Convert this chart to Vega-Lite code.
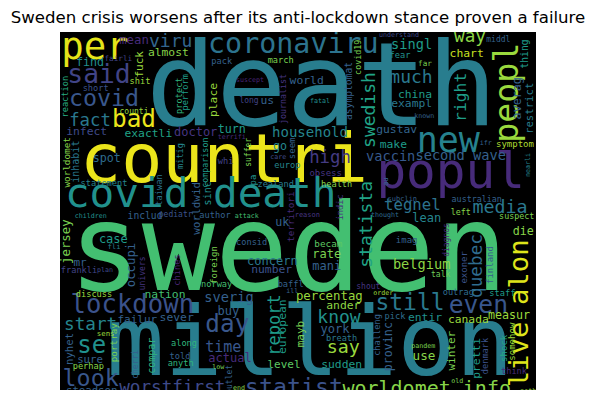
{
  "$schema": "https://vega.github.io/schema/vega-lite/v6.json",
  "width": 476,
  "height": 358,
  "autosize": {"type": "none"},
  "padding": {"left": 60, "top": 32, "right": 59, "bottom": 21},
  "background": "white",
  "title": {"text": "Sweden crisis worsens after its anti-lockdown stance proven a failure", "font": "DejaVu Sans", "fontSize": 16.6, "fontWeight": "normal", "color": "black", "anchor": "middle", "frame": "group", "offset": 7, "dy": 15, "baseline": "alphabetic"},
  "config": {"view": {"fill": "black", "stroke": null}},
  "data": {"values": [
    {"w":"death","x":785,"y":285,"s":350,"c":0.42,"r":0},
    {"w":"sweden","x":685,"y":780,"s":365,"c":0.7,"r":0},
    {"w":"million","x":750,"y":1035,"s":290,"c":0.42,"r":0},
    {"w":"countri","x":492,"y":455,"s":205,"c":0.97,"r":0},
    {"w":"popul","x":1172,"y":475,"s":148,"c":0.12,"r":0},
    {"w":"covid death","x":422,"y":530,"s":123,"c":0.5,"r":0},
    {"w":"per","x":105,"y":88,"s":112,"c":0.96,"r":0},
    {"w":"new","x":1165,"y":365,"s":105,"c":0.44,"r":0},
    {"w":"peopl","x":1374,"y":188,"s":100,"c":0.85,"r":1},
    {"w":"coronaviru","x":700,"y":70,"s":85,"c":0.38,"r":0},
    {"w":"live alon","x":1405,"y":850,"s":82,"c":0.95,"r":1},
    {"w":"said","x":117,"y":160,"s":79,"c":0.2,"r":0},
    {"w":"lockdown","x":217,"y":850,"s":77,"c":0.25,"r":0},
    {"w":"even","x":1255,"y":850,"s":74,"c":0.27,"r":0},
    {"w":"bad","x":222,"y":292,"s":73,"c":0.97,"r":0},
    {"w":"day","x":502,"y":905,"s":73,"c":0.27,"r":0},
    {"w":"se","x":95,"y":970,"s":72,"c":0.5,"r":0},
    {"w":"covid","x":132,"y":228,"s":70,"c":0.27,"r":0},
    {"w":"look","x":92,"y":1068,"s":70,"c":0.27,"r":0},
    {"w":"statist","x":702,"y":1095,"s":70,"c":0.25,"r":0},
    {"w":"still","x":1050,"y":840,"s":69,"c":0.4,"r":0},
    {"w":"worldomet info","x":1100,"y":1095,"s":60,"c":0.82,"r":0},
    {"w":"media","x":1320,"y":550,"s":55,"c":0.4,"r":0},
    {"w":"say","x":850,"y":970,"s":55,"c":0.85,"r":0},
    {"w":"swedish","x":946,"y":240,"s":54,"c":0.58,"r":1},
    {"w":"statista","x":936,"y":583,"s":54,"c":0.58,"r":1},
    {"w":"much","x":1053,"y":160,"s":54,"c":0.4,"r":0},
    {"w":"know","x":837,"y":880,"s":54,"c":0.5,"r":0},
    {"w":"viru","x":332,"y":52,"s":54,"c":0.32,"r":0},
    {"w":"start","x":92,"y":900,"s":53,"c":0.45,"r":0},
    {"w":"way","x":1230,"y":37,"s":53,"c":0.83,"r":0},
    {"w":"quebec","x":1265,"y":708,"s":53,"c":0.35,"r":1},
    {"w":"worstfirst","x":337,"y":1090,"s":53,"c":0.22,"r":0},
    {"w":"fact","x":90,"y":287,"s":52,"c":0.4,"r":0},
    {"w":"high","x":810,"y":400,"s":52,"c":0.17,"r":0},
    {"w":"report","x":659,"y":885,"s":51,"c":0.55,"r":1},
    {"w":"right","x":1217,"y":202,"s":49,"c":0.56,"r":1},
    {"w":"tegnel","x":1057,"y":540,"s":47,"c":0.38,"r":0},
    {"w":"time","x":490,"y":965,"s":45,"c":0.27,"r":0},
    {"w":"household","x":750,"y":320,"s":42,"c":0.45,"r":0},
    {"w":"singl","x":1055,"y":57,"s":41,"c":0.55,"r":0},
    {"w":"second wave","x":1202,"y":390,"s":41,"c":0.3,"r":0},
    {"w":"vaccin","x":992,"y":392,"s":41,"c":0.28,"r":0},
    {"w":"sverig","x":507,"y":815,"s":41,"c":0.3,"r":0},
    {"w":"belgium","x":1085,"y":718,"s":41,"c":0.83,"r":0},
    {"w":"use","x":1092,"y":990,"s":38,"c":0.82,"r":0},
    {"w":"averag","x":1384,"y":205,"s":35,"c":0.3,"r":1},
    {"w":"occupi","x":225,"y":705,"s":37,"c":0.3,"r":1},
    {"w":"percentag","x":808,"y":810,"s":37,"c":0.85,"r":0},
    {"w":"jersey","x":30,"y":635,"s":37,"c":0.8,"r":1},
    {"w":"case","x":160,"y":640,"s":36,"c":0.55,"r":0},
    {"w":"doctor","x":407,"y":318,"s":36,"c":0.15,"r":0},
    {"w":"concern","x":637,"y":705,"s":36,"c":0.4,"r":0},
    {"w":"rate","x":800,"y":685,"s":36,"c":0.8,"r":0},
    {"w":"mani","x":800,"y":720,"s":36,"c":0.3,"r":0},
    {"w":"lean","x":1100,"y":575,"s":36,"c":0.45,"r":0},
    {"w":"buy","x":505,"y":855,"s":36,"c":0.3,"r":0},
    {"w":"york","x":825,"y":910,"s":36,"c":0.3,"r":0},
    {"w":"actual","x":510,"y":995,"s":36,"c":0.12,"r":0},
    {"w":"die","x":1390,"y":615,"s":35,"c":0.82,"r":0},
    {"w":"turn","x":515,"y":308,"s":35,"c":0.55,"r":0},
    {"w":"find","x":90,"y":107,"s":35,"c":0.5,"r":0},
    {"w":"uk","x":667,"y":587,"s":35,"c":0.3,"r":0},
    {"w":"go","x":660,"y":360,"s":35,"c":0.45,"r":0},
    {"w":"spot","x":140,"y":395,"s":35,"c":0.35,"r":0},
    {"w":"measur","x":1347,"y":867,"s":35,"c":0.85,"r":0},
    {"w":"provinc","x":997,"y":950,"s":35,"c":0.3,"r":1},
    {"w":"place","x":470,"y":210,"s":34,"c":0.85,"r":1},
    {"w":"chart","x":1220,"y":80,"s":34,"c":0.92,"r":0},
    {"w":"china","x":1065,"y":205,"s":34,"c":0.55,"r":0},
    {"w":"exampl","x":1055,"y":230,"s":34,"c":0.4,"r":0},
    {"w":"gustav","x":1010,"y":310,"s":34,"c":0.32,"r":0},
    {"w":"make","x":1000,"y":355,"s":34,"c":0.55,"r":0},
    {"w":"almost","x":325,"y":78,"s":34,"c":0.82,"r":0},
    {"w":"infect","x":80,"y":315,"s":34,"c":0.22,"r":0},
    {"w":"exactli","x":265,"y":322,"s":34,"c":0.58,"r":0},
    {"w":"world","x":740,"y":162,"s":34,"c":0.3,"r":0},
    {"w":"us","x":622,"y":222,"s":34,"c":0.3,"r":0},
    {"w":"number","x":635,"y":730,"s":34,"c":0.25,"r":0},
    {"w":"nation","x":315,"y":803,"s":34,"c":0.7,"r":0},
    {"w":"ander","x":850,"y":838,"s":34,"c":0.83,"r":0},
    {"w":"sever","x":350,"y":873,"s":34,"c":0.3,"r":0},
    {"w":"entir","x":1095,"y":873,"s":34,"c":0.5,"r":0},
    {"w":"canada","x":1225,"y":878,"s":34,"c":0.85,"r":0},
    {"w":"sudden","x":845,"y":1015,"s":34,"c":0.55,"r":0},
    {"w":"pretti","x":1261,"y":985,"s":34,"c":0.55,"r":1},
    {"w":"european","x":678,"y":890,"s":34,"c":0.55,"r":1},
    {"w":"failur","x":232,"y":878,"s":33,"c":0.3,"r":0},
    {"w":"mr","x":60,"y":708,"s":33,"c":0.3,"r":0},
    {"w":"mayb","x":733,"y":912,"s":33,"c":0.8,"r":1},
    {"w":"winter","x":1185,"y":962,"s":33,"c":0.8,"r":1},
    {"w":"level","x":672,"y":1015,"s":33,"c":0.75,"r":0},
    {"w":"fuck","x":250,"y":103,"s":33,"c":0.85,"r":1},
    {"w":"worldwid","x":420,"y":535,"s":33,"c":0.3,"r":1},
    {"w":"nyhet","x":39,"y":957,"s":32,"c":0.3,"r":1},
    {"w":"steadson","x":95,"y":1093,"s":32,"c":0.3,"r":0},
    {"w":"restrict","x":1419,"y":235,"s":32,"c":0.42,"r":1},
    {"w":"sure","x":90,"y":998,"s":32,"c":0.3,"r":0},
    {"w":"sinc","x":452,"y":490,"s":30,"c":0.5,"r":1},
    {"w":"inhabit","x":58,"y":395,"s":30,"c":0.4,"r":1},
    {"w":"includ","x":255,"y":567,"s":29,"c":0.3,"r":0},
    {"w":"compar","x":286,"y":977,"s":30,"c":0.65,"r":1},
    {"w":"asymptomat","x":877,"y":183,"s":29,"c":0.3,"r":1},
    {"w":"thing","x":1405,"y":72,"s":29,"c":0.55,"r":1},
    {"w":"territori","x":701,"y":560,"s":28,"c":0.12,"r":1},
    {"w":"worldomet","x":31,"y":397,"s":28,"c":0.82,"r":1},
    {"w":"portray","x":171,"y":938,"s":28,"c":0.8,"r":1},
    {"w":"becam","x":805,"y":652,"s":28,"c":0.75,"r":0},
    {"w":"symptom","x":1365,"y":350,"s":27,"c":0.88,"r":0},
    {"w":"obsess","x":797,"y":437,"s":27,"c":0.15,"r":0},
    {"w":"imag","x":1040,"y":640,"s":27,"c":0.3,"r":0},
    {"w":"finland","x":1300,"y":705,"s":27,"c":0.3,"r":1},
    {"w":"exoner","x":1220,"y":712,"s":27,"c":0.25,"r":1},
    {"w":"foreign","x":471,"y":705,"s":27,"c":0.8,"r":1},
    {"w":"shock","x":1341,"y":955,"s":27,"c":0.6,"r":1},
    {"w":"somehow","x":1365,"y":935,"s":27,"c":0.85,"r":1},
    {"w":"seem","x":705,"y":355,"s":27,"c":0.3,"r":1},
    {"w":"pa","x":588,"y":450,"s":27,"c":0.5,"r":1},
    {"w":"health","x":830,"y":472,"s":26,"c":0.82,"r":0},
    {"w":"fear","x":1020,"y":85,"s":26,"c":0.5,"r":0},
    {"w":"covid19","x":903,"y":82,"s":25,"c":0.8,"r":1},
    {"w":"denmark","x":1285,"y":978,"s":26,"c":0.25,"r":1},
    {"w":"chines","x":360,"y":720,"s":26,"c":0.1,"r":1},
    {"w":"indic","x":850,"y":532,"s":26,"c":0.15,"r":1},
    {"w":"mitig","x":370,"y":378,"s":26,"c":0.45,"r":1},
    {"w":"protect","x":365,"y":197,"s":26,"c":0.65,"r":1},
    {"w":"perform","x":385,"y":187,"s":26,"c":0.55,"r":1},
    {"w":"reaction","x":24,"y":200,"s":26,"c":0.62,"r":1},
    {"w":"taiwan","x":305,"y":480,"s":26,"c":0.38,"r":1},
    {"w":"challeng","x":960,"y":915,"s":26,"c":0.3,"r":1},
    {"w":"consid","x":575,"y":645,"s":26,"c":0.3,"r":0},
    {"w":"zealand","x":647,"y":472,"s":26,"c":0.42,"r":0},
    {"w":"statement","x":132,"y":468,"s":26,"c":0.45,"r":0},
    {"w":"author","x":465,"y":565,"s":26,"c":0.3,"r":0},
    {"w":"frankli","x":57,"y":730,"s":26,"c":0.2,"r":0},
    {"w":"norway","x":470,"y":770,"s":26,"c":0.7,"r":0},
    {"w":"discuss","x":102,"y":802,"s":26,"c":0.85,"r":0},
    {"w":"baffl","x":692,"y":770,"s":26,"c":0.3,"r":0},
    {"w":"outrag","x":1195,"y":795,"s":26,"c":0.35,"r":0},
    {"w":"staff","x":1327,"y":798,"s":26,"c":0.55,"r":0},
    {"w":"pick","x":1005,"y":866,"s":26,"c":0.35,"r":0},
    {"w":"breath","x":845,"y":932,"s":26,"c":0.4,"r":0},
    {"w":"think","x":1362,"y":1033,"s":26,"c":0.12,"r":0},
    {"w":"perhap","x":85,"y":1018,"s":26,"c":0.82,"r":0},
    {"w":"along","x":372,"y":947,"s":26,"c":0.65,"r":0},
    {"w":"told","x":360,"y":988,"s":26,"c":0.3,"r":0},
    {"w":"anyth","x":362,"y":1008,"s":26,"c":0.65,"r":0},
    {"w":"shit","x":240,"y":162,"s":26,"c":0.85,"r":0},
    {"w":"short","x":107,"y":182,"s":26,"c":0.25,"r":0},
    {"w":"pack","x":485,"y":102,"s":26,"c":0.3,"r":0},
    {"w":"march","x":662,"y":98,"s":26,"c":0.8,"r":0},
    {"w":"whi","x":497,"y":403,"s":26,"c":0.2,"r":0},
    {"w":"europ","x":682,"y":415,"s":26,"c":0.45,"r":0},
    {"w":"australian","x":1250,"y":515,"s":25,"c":0.3,"r":0},
    {"w":"left","x":1202,"y":556,"s":25,"c":0.82,"r":0},
    {"w":"suspect","x":1370,"y":568,"s":25,"c":0.8,"r":0},
    {"w":"journalist","x":679,"y":207,"s":25,"c":0.15,"r":1},
    {"w":"comparison","x":443,"y":398,"s":25,"c":0.55,"r":1},
    {"w":"diagnos","x":1168,"y":630,"s":24,"c":0.12,"r":1},
    {"w":"univers","x":255,"y":730,"s":24,"c":0.15,"r":1},
    {"w":"cherri","x":235,"y":1003,"s":24,"c":0.3,"r":1},
    {"w":"outlet","x":515,"y":1048,"s":24,"c":0.3,"r":1},
    {"w":"suffer","x":573,"y":367,"s":24,"c":0.8,"r":1},
    {"w":"mean","x":222,"y":42,"s":37,"c":0.12,"r":0},
    {"w":"middl","x":1315,"y":35,"s":24,"c":0.3,"r":0},
    {"w":"long","x":567,"y":218,"s":24,"c":0.2,"r":0},
    {"w":"shout","x":925,"y":778,"s":24,"c":0.15,"r":0},
    {"w":"talk","x":1142,"y":740,"s":24,"c":0.78,"r":0},
    {"w":"pediatr","x":347,"y":562,"s":24,"c":0.25,"r":0},
    {"w":"fairli","x":175,"y":92,"s":23,"c":0.2,"r":0},
    {"w":"counti","x":222,"y":252,"s":24,"c":0.85,"r":0},
    {"w":"far","x":1095,"y":108,"s":23,"c":0.8,"r":0},
    {"w":"au","x":985,"y":455,"s":22,"c":0.3,"r":1},
    {"w":"fli","x":162,"y":658,"s":22,"c":0.42,"r":0},
    {"w":"sens","x":137,"y":917,"s":22,"c":0.85,"r":0},
    {"w":"subclin","x":1027,"y":512,"s":21,"c":0.3,"r":0},
    {"w":"reason","x":742,"y":560,"s":21,"c":0.15,"r":0},
    {"w":"understand","x":1017,"y":20,"s":20,"c":0.22,"r":0},
    {"w":"nearli","x":1410,"y":405,"s":20,"c":0.45,"r":1},
    {"w":"known","x":1093,"y":264,"s":20,"c":0.3,"r":0},
    {"w":"ifr","x":1277,"y":345,"s":20,"c":0.3,"r":0},
    {"w":"thought","x":975,"y":560,"s":20,"c":0.35,"r":0},
    {"w":"children","x":92,"y":563,"s":20,"c":0.5,"r":0},
    {"w":"attack","x":560,"y":563,"s":20,"c":0.7,"r":0},
    {"w":"plan","x":135,"y":727,"s":20,"c":0.22,"r":0},
    {"w":"ill","x":697,"y":790,"s":20,"c":0.3,"r":0},
    {"w":"order","x":970,"y":795,"s":20,"c":0.85,"r":0},
    {"w":"pandem","x":1090,"y":955,"s":20,"c":0.8,"r":0},
    {"w":"old","x":1192,"y":1058,"s":20,"c":0.8,"r":0},
    {"w":"noth","x":1405,"y":1090,"s":20,"c":0.85,"r":0},
    {"w":"low","x":475,"y":1018,"s":20,"c":0.8,"r":0},
    {"w":"end","x":537,"y":1080,"s":20,"c":0.82,"r":0},
    {"w":"fatal","x":780,"y":218,"s":20,"c":0.5,"r":0},
    {"w":"suscept","x":570,"y":157,"s":20,"c":0.1,"r":0},
    {"w":"care","x":655,"y":388,"s":20,"c":0.22,"r":0},
    {"w":"terrifi","x":515,"y":328,"s":20,"c":0.12,"r":0}
  ]},
  "mark": {"type": "text", "font": "DejaVu Sans Mono", "align": "center", "baseline": "alphabetic", "clip": true},
  "encoding": {
    "x": {"field": "x", "type": "quantitative", "axis": null, "scale": {"domain": [0, 1428], "nice": false, "zero": false}},
    "y": {"field": "y", "type": "quantitative", "axis": null, "scale": {"domain": [6, 1080], "nice": false, "zero": false, "reverse": true}},
    "text": {"field": "w", "type": "nominal"},
    "size": {"field": "s", "type": "quantitative", "legend": null, "scale": {"domain": [0, 360], "range": [0, 120]}},
    "color": {"field": "c", "type": "quantitative", "legend": null, "scale": {"scheme": "viridis", "domain": [0, 1]}},
    "angle": {"field": "r", "type": "quantitative", "legend": null, "scale": {"domain": [0, 1], "range": [0, 270]}}
  }
}
